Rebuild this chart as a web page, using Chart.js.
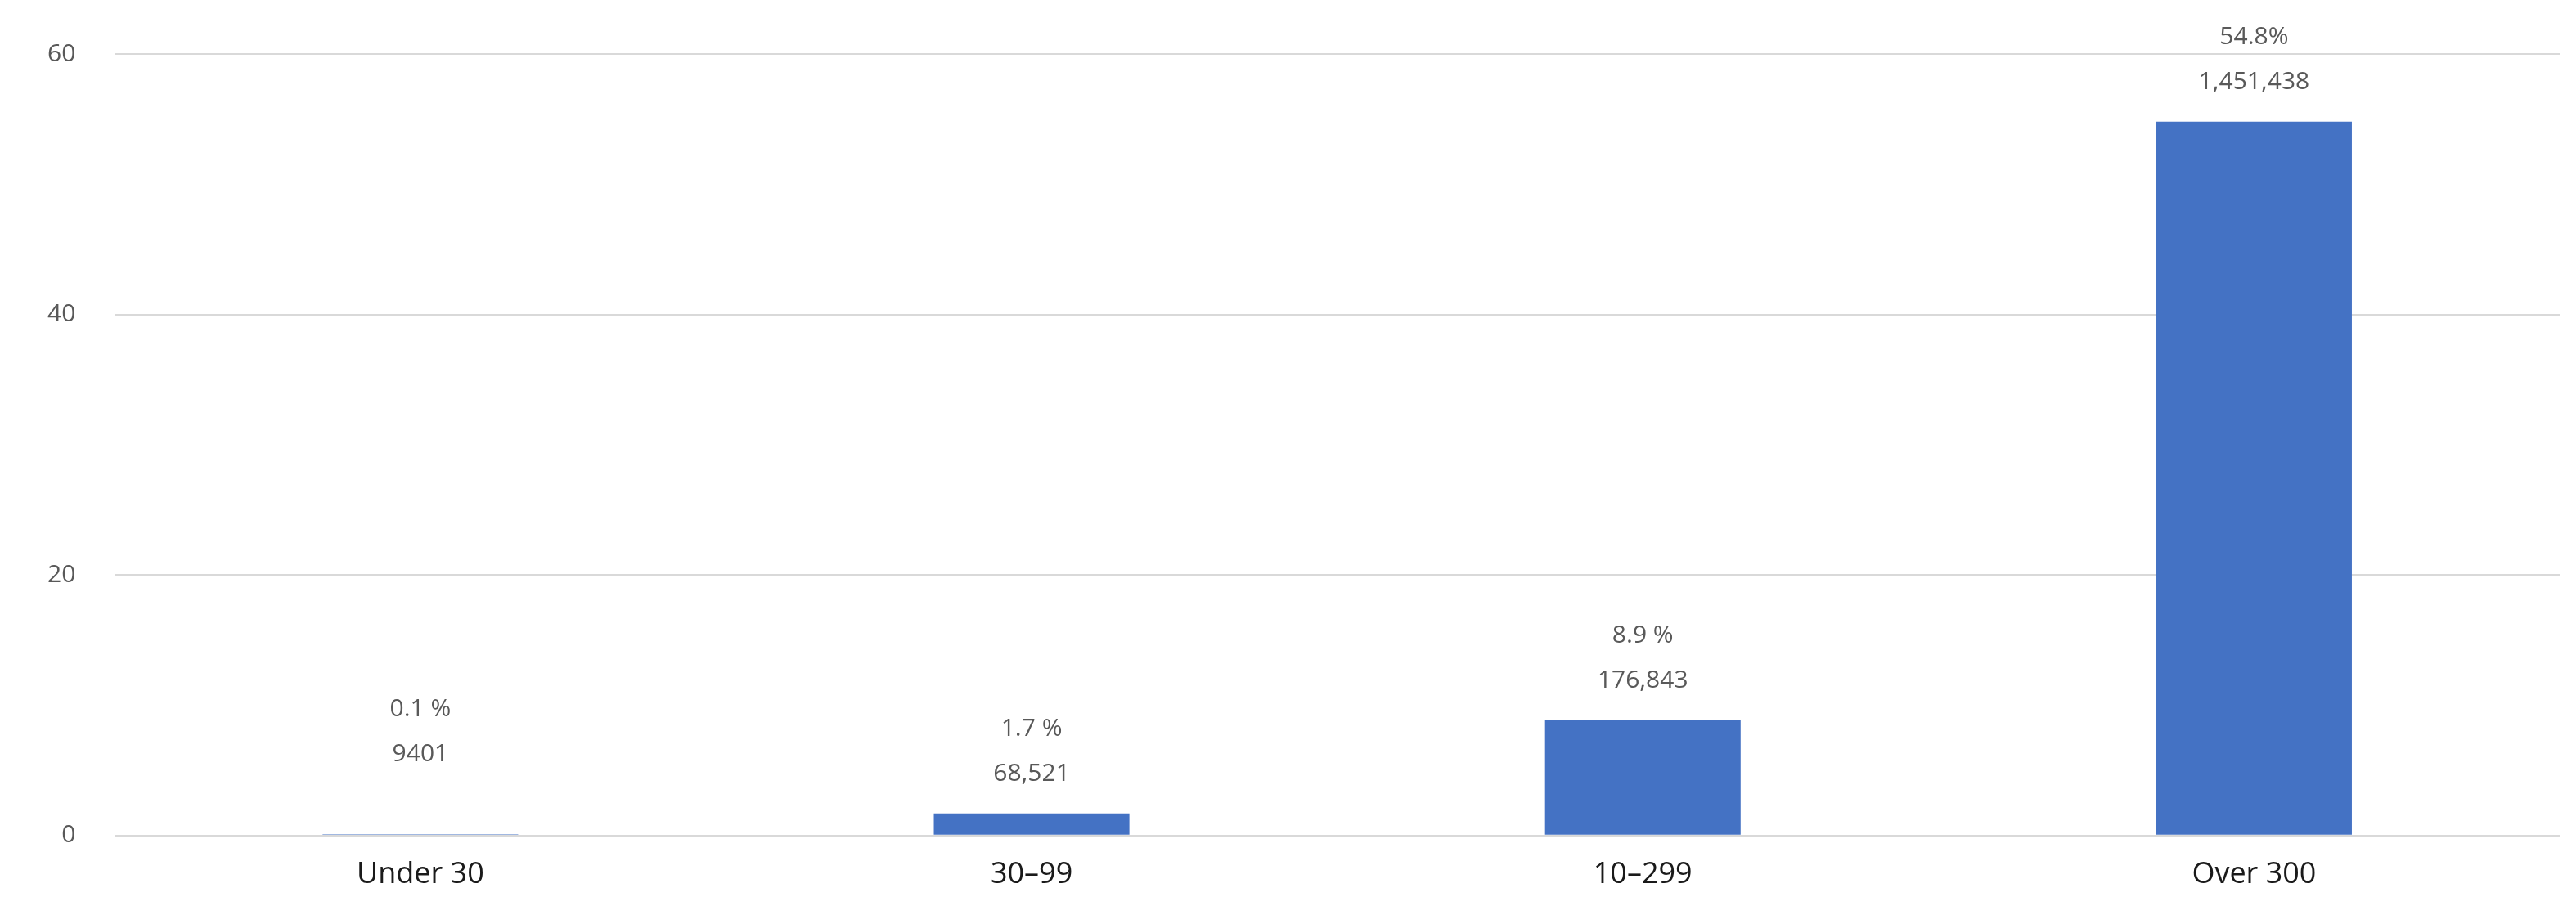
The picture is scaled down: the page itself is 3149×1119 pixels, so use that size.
<!DOCTYPE html>
<html><head><meta charset="utf-8">
<script src="https://cdn.jsdelivr.net/npm/chart.js@4"></script>
<style>html,body{margin:0;padding:0;background:#fff}#w{width:3149px;height:1119px}</style>
</head><body><div id="w"><canvas id="c"></canvas></div>
<script>
const categories = ["Under 30", "30–99", "10–299", "Over 300"];
const percentValues = [0.1, 1.7, 8.9, 54.8];
const percentLabels = ["0.1 %", "1.7 %", "8.9 %", "54.8%"];
const countLabels = ["9401", "68,521", "176,843", "1,451,438"];
const yTicks = [0, 20, 40, 60];

const labelPlugin = {
  id: 'lbl',
  afterDatasetsDraw(chart) {
    const ctx = chart.ctx;
    const meta = chart.getDatasetMeta(0);
    ctx.save();
    ctx.font = '30px "Open Sans", sans-serif';
    ctx.fillStyle = '#595959';
    ctx.textAlign = 'center';
    ctx.textBaseline = 'middle';
    meta.data.forEach((bar, i) => {
      const extra = i === 0 ? 50 : 0;
      ctx.fillText(countLabels[i], bar.x, bar.y - 48 - extra);
      ctx.fillText(percentLabels[i], bar.x, bar.y - 103 - extra);
    });
    ctx.restore();
  }
};

new Chart(document.getElementById('c'), {
  type: 'bar',
  data: { labels: categories, datasets: [{ data: percentValues, backgroundColor: '#4472C4', barPercentage: 0.32, categoryPercentage: 1 }] },
  options: {
    responsive: true, maintainAspectRatio: false, animation: false,
    layout: { padding: { top: 38, right: 20, left: 10, bottom: 10 } },
    plugins: { legend: { display: false }, tooltip: { enabled: false } },
    scales: {
      x: { grid: { display: false }, border: { display: false },
           ticks: { color: '#1a1a1a', font: { size: 36, family: '"Open Sans", sans-serif' }, padding: 18 } },
      y: { min: 0, max: 60, afterBuildTicks: a => { a.ticks = yTicks.map(v => ({ value: v })); },
           grid: { color: '#d9d9d9', lineWidth: 2, drawTicks: false }, border: { display: false },
           ticks: { color: '#595959', font: { size: 30, family: '"Open Sans", sans-serif' }, padding: 48 } }
    }
  },
  plugins: [labelPlugin]
});
</script></body></html>
